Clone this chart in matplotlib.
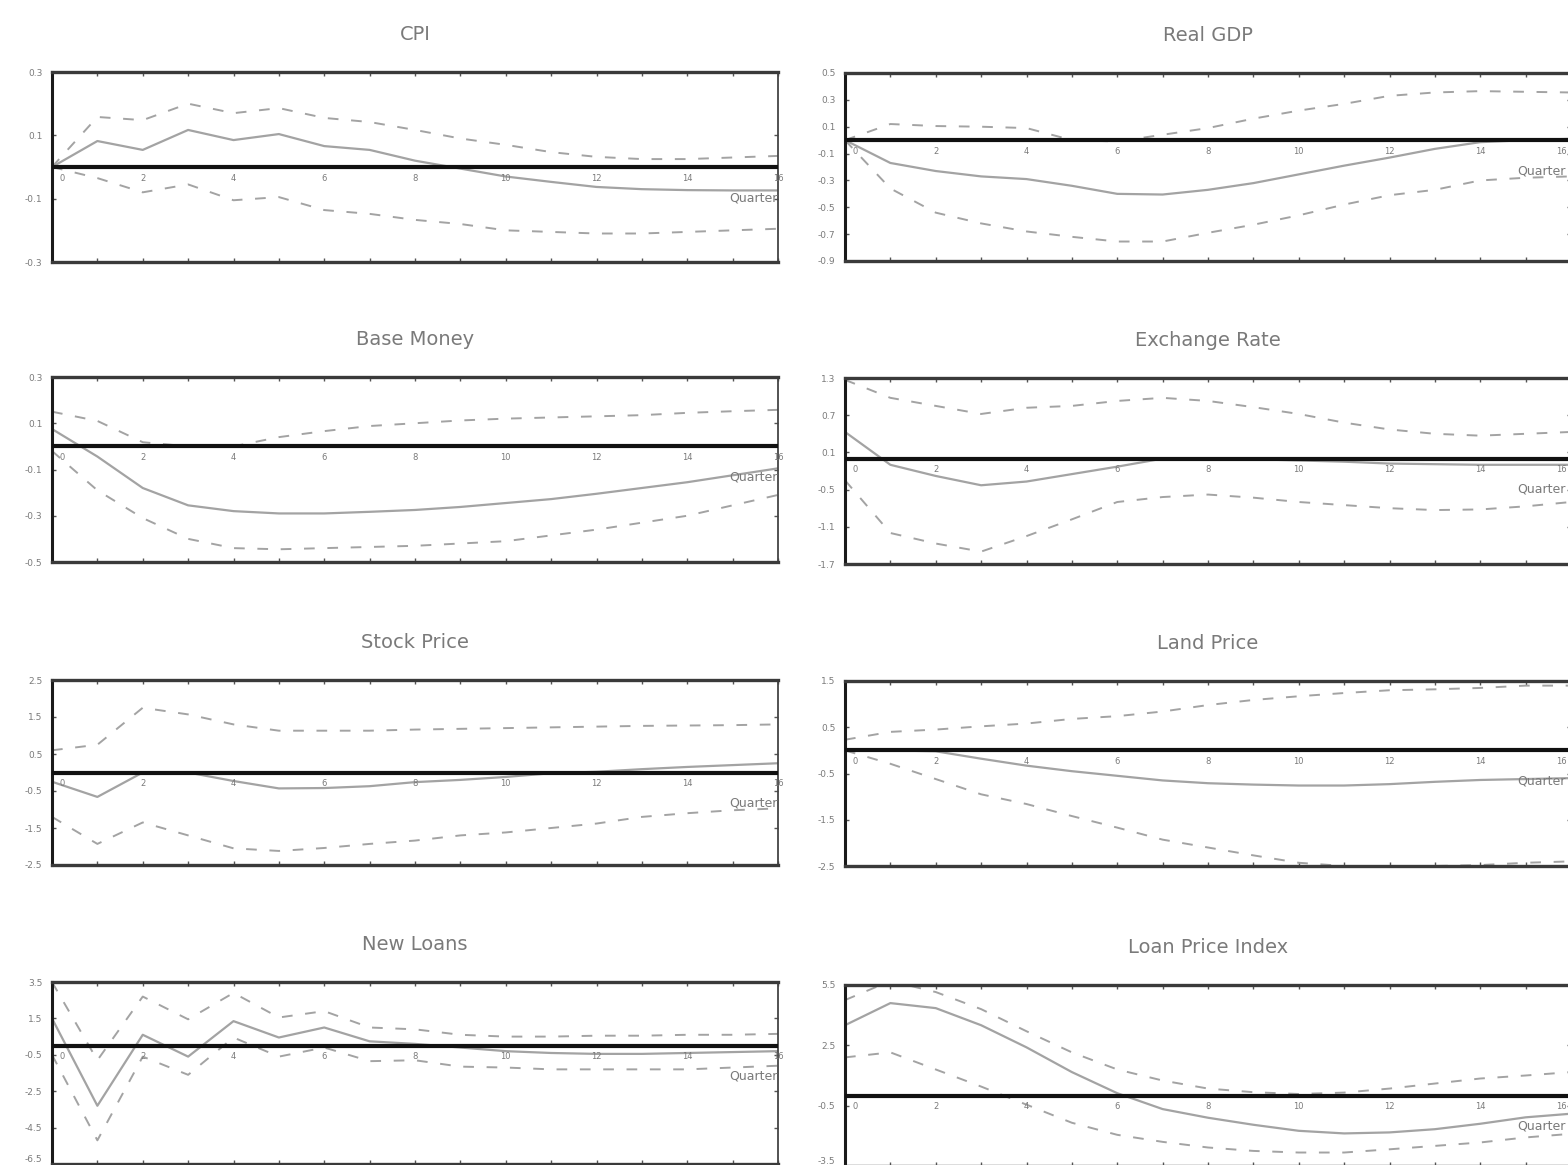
import matplotlib
matplotlib.use("Agg")
import matplotlib.pyplot as plt

quarters = list(range(17))
xtick_labels = ["0", "2", "4", "6", "8", "10", "12", "14", "16"]

titles = ["CPI", "Real GDP", "Base Money", "Exchange Rate",
          "Stock Price", "Land Price", "New Loans", "Loan Price Index"]

cpi_mid = [0.0, 0.082, 0.054, 0.117, 0.085, 0.104, 0.066, 0.054, 0.02, -0.005, -0.03, -0.047, -0.063, -0.07, -0.073, -0.074, -0.074]
cpi_up = [0.0, 0.158, 0.148, 0.2, 0.17, 0.186, 0.155, 0.142, 0.117, 0.09, 0.07, 0.047, 0.032, 0.025, 0.025, 0.03, 0.035]
cpi_lo = [0.0, -0.035, -0.08, -0.055, -0.105, -0.095, -0.136, -0.148, -0.167, -0.18, -0.2, -0.205, -0.21, -0.21, -0.205, -0.2, -0.195]

gdp_mid = [0.0, -0.17, -0.23, -0.27, -0.29, -0.34, -0.40, -0.405, -0.37, -0.32, -0.255, -0.19, -0.13, -0.065, -0.015, 0.0, 0.01]
gdp_up = [0.0, 0.12, 0.105, 0.1, 0.09, 0.0, -0.01, 0.04, 0.09, 0.16, 0.22, 0.27, 0.33, 0.355, 0.365, 0.36, 0.355]
gdp_lo = [0.0, -0.36, -0.54, -0.62, -0.68, -0.72, -0.755, -0.755, -0.69, -0.63, -0.56, -0.48, -0.41, -0.37, -0.30, -0.28, -0.27]

bm_mid = [0.075, -0.044, -0.18, -0.255, -0.28, -0.29, -0.29, -0.283, -0.275, -0.262, -0.245, -0.228, -0.205, -0.18, -0.155, -0.125, -0.095]
bm_up = [0.15, 0.11, 0.018, 0.0, 0.0, 0.04, 0.066, 0.088, 0.1, 0.112, 0.12, 0.125, 0.13, 0.135, 0.145, 0.152, 0.158]
bm_lo = [-0.02, -0.19, -0.31, -0.40, -0.44, -0.445, -0.44, -0.435, -0.43, -0.42, -0.41, -0.385, -0.36, -0.33, -0.3, -0.255, -0.21]

er_mid = [0.43, -0.1, -0.28, -0.43, -0.37, -0.25, -0.13, 0.0, 0.0, -0.01, -0.03, -0.05, -0.08, -0.09, -0.1, -0.1, -0.1]
er_up = [1.27, 0.98, 0.85, 0.72, 0.82, 0.85, 0.93, 0.98, 0.93, 0.83, 0.72, 0.58, 0.47, 0.4, 0.37, 0.4, 0.43]
er_lo = [-0.35, -1.2, -1.37, -1.5, -1.25, -0.98, -0.7, -0.62, -0.58, -0.63, -0.7, -0.75, -0.8, -0.83, -0.82, -0.77, -0.7]

sp_mid = [-0.25, -0.66, 0.0, 0.0, -0.23, -0.43, -0.42, -0.37, -0.26, -0.2, -0.12, -0.02, 0.02, 0.09, 0.15, 0.2, 0.25]
sp_up = [0.6, 0.75, 1.75, 1.57, 1.3, 1.13, 1.13, 1.13, 1.16, 1.18, 1.2, 1.22, 1.24, 1.26, 1.27, 1.28, 1.3]
sp_lo = [-1.2, -1.93, -1.35, -1.7, -2.05, -2.12, -2.04, -1.93, -1.84, -1.7, -1.62, -1.5, -1.38, -1.2, -1.1, -1.02, -0.97]

lp_mid = [0.0, 0.0, -0.02, -0.18, -0.33, -0.45, -0.55, -0.65, -0.71, -0.74, -0.76, -0.76, -0.73, -0.68, -0.64, -0.62, -0.6]
lp_up = [0.23, 0.4, 0.45, 0.52, 0.58, 0.68, 0.74, 0.84, 0.98, 1.09, 1.17, 1.24, 1.3, 1.32, 1.35, 1.4, 1.4]
lp_lo = [0.0, -0.29, -0.62, -0.95, -1.16, -1.42, -1.67, -1.93, -2.1, -2.27, -2.43, -2.5, -2.5, -2.5, -2.48, -2.43, -2.4]

nl_mid = [1.5, -3.3, 0.6, -0.6, 1.35, 0.45, 1.0, 0.24, 0.1, -0.1, -0.3, -0.4, -0.45, -0.45, -0.4, -0.35, -0.3]
nl_up = [3.5, -0.8, 2.7, 1.45, 2.9, 1.55, 1.9, 1.0, 0.9, 0.6, 0.5, 0.5, 0.55, 0.55, 0.6, 0.6, 0.65]
nl_lo = [-0.5, -5.2, -0.6, -1.6, 0.45, -0.6, -0.1, -0.85, -0.8, -1.15, -1.2, -1.3, -1.3, -1.3, -1.3, -1.2, -1.1]

lpi_mid = [3.5, 4.6, 4.35, 3.5, 2.4, 1.17, 0.12, -0.67, -1.1, -1.45, -1.75, -1.88, -1.83, -1.67, -1.4, -1.08, -0.9]
lpi_up = [4.75, 5.7, 5.15, 4.3, 3.2, 2.15, 1.3, 0.75, 0.35, 0.17, 0.08, 0.15, 0.35, 0.6, 0.85, 1.0, 1.17]
lpi_lo = [1.9, 2.15, 1.3, 0.45, -0.45, -1.35, -1.95, -2.3, -2.58, -2.75, -2.83, -2.83, -2.67, -2.5, -2.33, -2.08, -1.9]

cpi_yticks = [0.3, 0.1, -0.1, -0.3]
gdp_yticks = [0.5, 0.3, 0.1, -0.1, -0.3, -0.5, -0.7, -0.9]
bm_yticks = [0.3, 0.1, -0.1, -0.3, -0.5]
er_yticks = [1.3, 0.7, 0.1, -0.5, -1.1, -1.7]
sp_yticks = [2.5, 1.5, 0.5, -0.5, -1.5, -2.5]
lp_yticks = [1.5, 0.5, -0.5, -1.5, -2.5]
nl_yticks = [3.5, 1.5, -0.5, -2.5, -4.5, -6.5]
lpi_yticks = [5.5, 2.5, -0.5, -3.5]

series = [
    (cpi_mid, cpi_up, cpi_lo, cpi_yticks),
    (gdp_mid, gdp_up, gdp_lo, gdp_yticks),
    (bm_mid, bm_up, bm_lo, bm_yticks),
    (er_mid, er_up, er_lo, er_yticks),
    (sp_mid, sp_up, sp_lo, sp_yticks),
    (lp_mid, lp_up, lp_lo, lp_yticks),
    (nl_mid, nl_up, nl_lo, nl_yticks),
    (lpi_mid, lpi_up, lpi_lo, lpi_yticks),
]

W, H = 1568, 1165
# pixel boxes (left, top, right, bottom)
boxes = [
    (52, 72, 778, 262), (845, 73, 1571, 261),
    (52, 377, 778, 562), (845, 378, 1571, 564),
    (52, 680, 778, 865), (845, 681, 1571, 866),
    (52, 982, 778, 1164), (845, 985, 1571, 1166),
]

fig = plt.figure(figsize=(W / 100, H / 100), dpi=100)
fig.patch.set_facecolor("white")

line_col = "#a3a3a3"
text_col = "#7a7a7a"

for i, (box, title, (mid, up, lo, yt)) in enumerate(zip(boxes, titles, series)):
    l, t, r, b = box
    right_col = (i % 2 == 1)
    ax = fig.add_axes([l / W, 1 - b / H, (r - l) / W, (b - t) / H])
    ax.set_xlim(0, 16)
    ax.set_ylim(min(yt), max(yt))
    ax.plot(quarters, up, color=line_col, lw=1.4, dashes=(5.5, 6.5))
    ax.plot(quarters, lo, color=line_col, lw=1.4, dashes=(5.5, 6.5))
    ax.plot(quarters, mid, color=line_col, lw=1.6)
    ax.axhline(0, color="#111111", lw=3.0, zorder=5)

    ax.set_xticks(quarters)
    ax.tick_params(axis="x", which="both", direction="in", length=3, width=1,
                   top=True, bottom=True, labelbottom=False, color="#555555")
    ax.set_yticks(yt)
    ax.set_yticklabels([f"{v:g}" for v in yt], fontsize=6.5, color=text_col)
    ax.tick_params(axis="y", direction="in", length=3, width=1, left=True,
                   right=True, pad=7, color="#555555")
    if i >= 6:
        ylabs = ax.get_yticklabels()
        ylabs[-1].set_verticalalignment("bottom")

    for side in ("top", "bottom"):
        ax.spines[side].set_linewidth(2.4)
        ax.spines[side].set_color("#3a3a3a")
    ax.spines["left"].set_linewidth(2.2)
    ax.spines["left"].set_color("#1a1a1a")
    ax.spines["right"].set_linewidth(1.3)
    ax.spines["right"].set_color("#444444")

    for k, lab in enumerate(xtick_labels):
        xv = 2 * k
        dx = 7 if k == 0 else 0
        ha = "center"
        if right_col and k == len(xtick_labels) - 1:
            ha = "right"
            dx = -3
        ax.annotate(lab, xy=(xv, 0), xycoords="data", xytext=(dx, -8),
                    textcoords="offset points", ha=ha, va="center",
                    fontsize=6, color=text_col, zorder=6, annotation_clip=False)

    qdx = -4 if right_col else 0
    ax.annotate("Quarter", xy=(16, 0), xycoords="data", xytext=(qdx, -22),
                textcoords="offset points", ha="right", va="center",
                fontsize=9, color=text_col, zorder=6, annotation_clip=False)

    ax.annotate(title, xy=(0.5, 1), xycoords="axes fraction", xytext=(0, 27),
                textcoords="offset points", ha="center", va="center",
                fontsize=14, color=text_col)

fig.savefig("out.png", dpi=100, facecolor="white")
